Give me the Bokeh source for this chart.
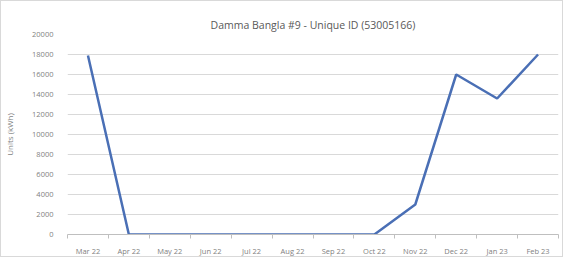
from bokeh.plotting import figure
from bokeh.models import FixedTicker, Range1d, NumeralTickFormatter
from bokeh.embed import file_html
from bokeh.resources import INLINE

months = ["Mar 22", "Apr 22", "May 22", "Jun 22", "Jul 22", "Aug 22",
          "Sep 22", "Oct 22", "Nov 22", "Dec 22", "Jan 23", "Feb 23"]
units = [17900, 0, 0, 0, 0, 0, 0, 0, 3000, 16000, 13600, 18000]
y_ticks = [0, 2000, 4000, 6000, 8000, 10000, 12000, 14000, 16000, 18000, 20000]
y_title = "Units (kWh)"

xs = [i + 0.5 for i in range(len(months))]

p = figure(width=563, height=257, output_backend="svg", toolbar_location=None,
           x_range=Range1d(0, len(months)), y_range=Range1d(0, 20000),
           title="Damma Bangla #9 - Unique ID (53005166)",
           min_border_left=58, min_border_right=6, min_border_top=33, min_border_bottom=11)
p.styles = {"border": "1px solid #d9d9d9"}

p.title.align = "center"
p.title.text_font = "Open Sans"
p.title.text_font_style = "normal"
p.title.text_font_size = "10.5px"
p.title.text_color = "#595959"
p.title.standoff = 6

p.line(xs, units, line_color="#4A6FB5", line_width=2.5)

p.outline_line_color = None
p.xgrid.grid_line_color = None
p.ygrid.grid_line_color = "#d9d9d9"
p.ygrid.ticker = FixedTicker(ticks=y_ticks)

xa = p.xaxis[0]
xa.ticker = FixedTicker(ticks=xs, minor_ticks=list(range(len(months) + 1)))
xa.major_label_overrides = {x: m for x, m in zip(xs, months)}
xa.major_tick_line_color = None
xa.minor_tick_line_color = "#bfbfbf"
xa.minor_tick_in = 0
xa.minor_tick_out = 4
xa.axis_line_color = "#bfbfbf"
xa.major_label_text_font = "Open Sans"
xa.major_label_text_font_size = "7.5px"
xa.major_label_text_color = "#7f7f7f"
xa.major_label_standoff = 5

ya = p.yaxis[0]
ya.ticker = FixedTicker(ticks=y_ticks)
ya.formatter = NumeralTickFormatter(format="0")
ya.axis_line_color = None
ya.major_tick_line_color = None
ya.minor_tick_line_color = None
ya.major_label_text_font = "Open Sans"
ya.major_label_text_font_size = "7.5px"
ya.major_label_text_color = "#7f7f7f"
ya.major_label_standoff = 8
ya.axis_label = y_title
ya.axis_label_text_font = "Open Sans"
ya.axis_label_text_font_style = "normal"
ya.axis_label_text_font_size = "8px"
ya.axis_label_text_color = "#7f7f7f"
ya.axis_label_standoff = 14

open("out.html", "w").write(file_html(p, INLINE))
